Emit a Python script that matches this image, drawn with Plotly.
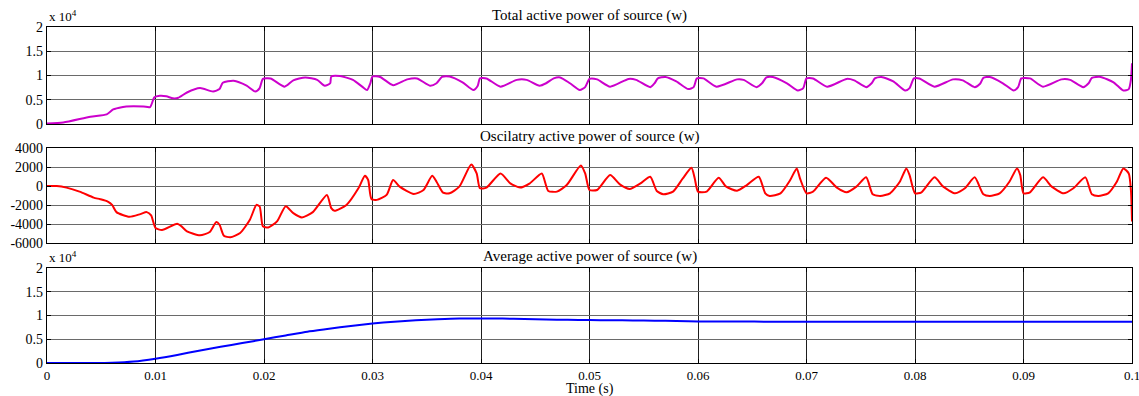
import plotly.graph_objects as go
from plotly.subplots import make_subplots

# ---- Total active power of source (x 10^4 W) ----
t_total = [0.0, 0.0015, 0.004, 0.0055, 0.0061, 0.007, 0.0073, 0.0089, 0.0095, 0.0099,
           0.0104, 0.011, 0.0116, 0.0121, 0.0129, 0.0141, 0.0153, 0.0159, 0.0162, 0.0172,
           0.0184, 0.0192, 0.0196, 0.0199, 0.0206, 0.0219, 0.0227, 0.0238, 0.0249, 0.0256,
           0.0261, 0.0262, 0.027, 0.0282, 0.0291, 0.0295, 0.0298, 0.03, 0.0307, 0.0319,
           0.0332, 0.0341, 0.0353, 0.0359, 0.0364, 0.0371, 0.0383, 0.0393, 0.0397, 0.0399,
           0.0405, 0.0418, 0.0433, 0.0442, 0.0454, 0.046, 0.0467, 0.0473, 0.0482, 0.0491,
           0.0496, 0.05, 0.0507, 0.0519, 0.0536, 0.0543, 0.0556, 0.056, 0.0563, 0.057,
           0.058, 0.0591, 0.0596, 0.0599, 0.0605, 0.0617, 0.0636, 0.0642, 0.0654, 0.0659,
           0.0663, 0.0669, 0.0682, 0.0692, 0.0697, 0.07, 0.0706, 0.0719, 0.0737, 0.0744,
           0.0755, 0.076, 0.0763, 0.0769, 0.078, 0.0791, 0.0795, 0.0799, 0.0804, 0.0818,
           0.0835, 0.0844, 0.0855, 0.086, 0.0863, 0.0869, 0.0881, 0.0891, 0.0895, 0.0898,
           0.0906, 0.0918, 0.0935, 0.0943, 0.0955, 0.096, 0.0963, 0.0971, 0.0983, 0.0992,
           0.0997, 0.0999, 0.1]
p_total = [0.01, 0.03, 0.15, 0.2, 0.3, 0.35, 0.36, 0.36, 0.35, 0.55,
           0.58, 0.57, 0.53, 0.54, 0.65, 0.74, 0.67, 0.72, 0.85, 0.89,
           0.79, 0.67, 0.74, 0.93, 0.94, 0.77, 0.9, 0.96, 0.91, 0.79,
           0.84, 0.98, 0.99, 0.91, 0.76, 0.7, 0.84, 0.98, 0.97, 0.8,
           0.92, 0.94, 0.79, 0.84, 0.97, 0.98, 0.86, 0.7, 0.79, 0.94,
           0.94, 0.77, 0.91, 0.91, 0.79, 0.84, 0.94, 0.96, 0.84, 0.7,
           0.76, 0.93, 0.92, 0.77, 0.93, 0.91, 0.76, 0.84, 0.94, 0.97,
           0.88, 0.72, 0.76, 0.94, 0.94, 0.77, 0.92, 0.91, 0.76, 0.84,
           0.96, 0.97, 0.84, 0.69, 0.74, 0.94, 0.94, 0.77, 0.93, 0.9,
           0.76, 0.84, 0.94, 0.97, 0.88, 0.69, 0.74, 0.94, 0.94, 0.77,
           0.92, 0.9, 0.76, 0.83, 0.95, 0.97, 0.84, 0.69, 0.76, 0.94,
           0.94, 0.77, 0.92, 0.91, 0.76, 0.84, 0.95, 0.97, 0.86, 0.69,
           0.72, 0.91, 1.25]

# ---- Oscilatry active power of source (W) ----
t_osc = [0.0, 0.0009, 0.0018, 0.003, 0.0043, 0.0049, 0.0056, 0.006, 0.0064, 0.0076,
         0.0086, 0.0092, 0.0096, 0.01, 0.0106, 0.012, 0.0124, 0.0129, 0.0141, 0.015,
         0.0156, 0.0159, 0.0163, 0.0169, 0.0178, 0.0187, 0.0193, 0.0196, 0.0199, 0.0204,
         0.0212, 0.0220, 0.0227, 0.0235, 0.0245, 0.0258, 0.0262, 0.0265, 0.0276, 0.0287,
         0.0293, 0.0296, 0.0299, 0.0304, 0.0313, 0.0319, 0.0325, 0.0338, 0.0347, 0.0355,
         0.0359, 0.0365, 0.0371, 0.038, 0.0391, 0.0396, 0.0399, 0.0405, 0.0418, 0.0427,
         0.0436, 0.0445, 0.0456, 0.0462, 0.047, 0.0479, 0.0492, 0.0496, 0.05, 0.0507,
         0.0519, 0.0528, 0.0537, 0.0547, 0.0556, 0.0562, 0.0568, 0.0577, 0.0586, 0.0594,
         0.0597, 0.06, 0.0608, 0.0619, 0.0626, 0.0636, 0.0645, 0.0656, 0.0662, 0.0666,
         0.0676, 0.0685, 0.0691, 0.0694, 0.07, 0.0706, 0.0718, 0.0728, 0.0737, 0.0746,
         0.0755, 0.0761, 0.0768, 0.0777, 0.0786, 0.0792, 0.0795, 0.08, 0.0806, 0.0818,
         0.0826, 0.0837, 0.0846, 0.0855, 0.0863, 0.0869, 0.0878, 0.0887, 0.0894, 0.0897,
         0.09, 0.0906, 0.0918, 0.0926, 0.0937, 0.0946, 0.0957, 0.0963, 0.0969, 0.0978,
         0.0986, 0.0992, 0.0997, 0.0999, 0.1]
p_osc = [0, 0, -170, -590, -1220, -1390, -1640, -1990, -2750, -3240,
         -2960, -2750, -3100, -4420, -4630, -3970, -4250, -4770, -5190, -4840,
         -3800, -4080, -5230, -5400, -4950, -3550, -1990, -2160, -4250, -4360,
         -3730, -2120, -2860, -3310, -2750, -940, -2330, -2610, -1990, -240,
         1080, 630, -1360, -1460, -940, 630, -70, -840, -420, 1080,
         450, -700, -770, -70, 2260, 1320, -240, -170, 1320, 280,
         -170, 280, 1320, -520, -590, 100, 2160, 1320, -420, -420,
         1150, 170, -310, 280, 980, -520, -870, -590, 800, 1920,
         800, -590, -590, 870, -70, -490, 100, 980, -770, -1050,
         -770, 630, 1850, 800, -770, -590, 870, -170, -660, -70,
         910, -870, -1050, -770, 450, 1850, 1150, -770, -660, 910,
         -70, -770, -240, 910, -870, -1050, -770, 450, 1850, 1150,
         -770, -660, 910, -70, -770, -240, 910, -870, -1050, -770,
         450, 1850, 1320, -420, -3730]

# ---- Average active power of source (x 10^4 W) ----
t_avg = [0.0, 0.004, 0.006, 0.008, 0.01, 0.012, 0.014, 0.016, 0.018, 0.02,
         0.022, 0.024, 0.026, 0.028, 0.03, 0.032, 0.034, 0.036, 0.038, 0.04,
         0.042, 0.044, 0.046, 0.048, 0.05, 0.052, 0.054, 0.056, 0.058, 0.06,
         0.07, 0.08, 0.09, 0.1]
p_avg = [0.0, 0.0, 0.005, 0.03, 0.09, 0.17, 0.26, 0.34, 0.42, 0.5,
         0.58, 0.66, 0.72, 0.78, 0.83, 0.87, 0.9, 0.92, 0.935, 0.935,
         0.935, 0.925, 0.915, 0.91, 0.905, 0.9, 0.895, 0.89, 0.885, 0.875,
         0.87, 0.868, 0.868, 0.868]

titles = ["Total active power of source (w)",
          "Oscilatry active power of source (w)",
          "Average active power of source (w)"]
x_ticks = [0, 0.01, 0.02, 0.03, 0.04, 0.05, 0.06, 0.07, 0.08, 0.09, 0.1]
x_labels = ["0", "0.01", "0.02", "0.03", "0.04", "0.05", "0.06", "0.07", "0.08", "0.09", "0.1"]
y_ticks_e4 = [0, 0.5, 1, 1.5, 2]
y_labels_e4 = ["0", "0.5", "1", "1.5", "2"]
y_ticks_osc = [-6000, -4000, -2000, 0, 2000, 4000]
y_labels_osc = ["-6000", "-4000", "-2000", "0", "2000", "4000"]

W, H = 1139, 396
ML, MR, MT, MB = 47, 7, 27, 33
PH = H - MT - MB


def dom(top_px, bot_px):
    return [(H - MB - bot_px) / PH, (H - MB - top_px) / PH]


FONT = "Liberation Serif, Times New Roman, serif"

fig = make_subplots(rows=3, cols=1, shared_xaxes=True)
fig.add_trace(go.Scatter(x=t_total, y=p_total, mode="lines",
                         line=dict(color="#cc00cc", width=2, shape="spline", smoothing=0.6)),
              row=1, col=1)
fig.add_trace(go.Scatter(x=t_osc, y=p_osc, mode="lines",
                         line=dict(color="#ff0000", width=2, shape="spline", smoothing=0.6)),
              row=2, col=1)
fig.add_trace(go.Scatter(x=t_avg, y=p_avg, mode="lines",
                         line=dict(color="#0000ff", width=2, shape="spline", smoothing=0.6)),
              row=3, col=1)

ax_common = dict(showline=True, linecolor="black", linewidth=1.3, mirror="ticks",
                 ticks="inside", ticklen=4, tickcolor="black", automargin=False,
                 zeroline=False)

for i in (1, 2, 3):
    fig.update_xaxes(range=[0, 0.1], tickvals=x_ticks, ticktext=x_labels,
                     showgrid=True, gridcolor="#1e1e1e", gridwidth=1.2,
                     ticklabeloverflow="allow", ticklabelstandoff=0,
                     tickfont=dict(family=FONT, size=13, color="black"),
                     showticklabels=(i == 3), row=i, col=1, **ax_common)

y_font = dict(family=FONT, size=14, color="black")
fig.update_yaxes(range=[0, 2], tickvals=y_ticks_e4, ticktext=y_labels_e4,
                 showgrid=True, gridcolor="#6a6a6a", gridwidth=1.3, tickfont=y_font,
                 domain=dom(27, 124), row=1, col=1, **ax_common)
fig.update_yaxes(range=[-6000, 4000], tickvals=y_ticks_osc, ticktext=y_labels_osc,
                 showgrid=True, gridcolor="#6a6a6a", gridwidth=1.3, tickfont=y_font,
                 domain=dom(148, 243), row=2, col=1, **ax_common)
fig.update_yaxes(range=[0, 2], tickvals=y_ticks_e4, ticktext=y_labels_e4,
                 showgrid=True, gridcolor="#6a6a6a", gridwidth=1.3, tickfont=y_font,
                 domain=dom(268, 363), row=3, col=1, **ax_common)

annotations = []
for title, top_px in zip(titles, (27, 148, 268)):
    annotations.append(dict(text=title, xref="paper", yref="paper", x=0.5,
                            y=(H - MB - top_px + 1) / PH, xanchor="center", yanchor="bottom",
                            showarrow=False, font=dict(family=FONT, size=15, color="black")))
for top_px in (27, 268):
    annotations.append(dict(text="x 10<sup>4</sup>", xref="paper", yref="paper", x=0.0,
                            y=(H - MB - top_px + 1) / PH, xanchor="left", yanchor="bottom",
                            showarrow=False, font=dict(family=FONT, size=13, color="black")))
annotations.append(dict(text="Time (s)", xref="paper", yref="paper", x=0.5,
                        y=-0.049, xanchor="center", yanchor="top", showarrow=False,
                        font=dict(family=FONT, size=14, color="black")))

fig.update_layout(width=W, height=H, margin=dict(l=ML, r=MR, t=MT, b=MB, autoexpand=False),
                  paper_bgcolor="white", plot_bgcolor="white", showlegend=False,
                  annotations=annotations)

fig.write_html("out.html")
